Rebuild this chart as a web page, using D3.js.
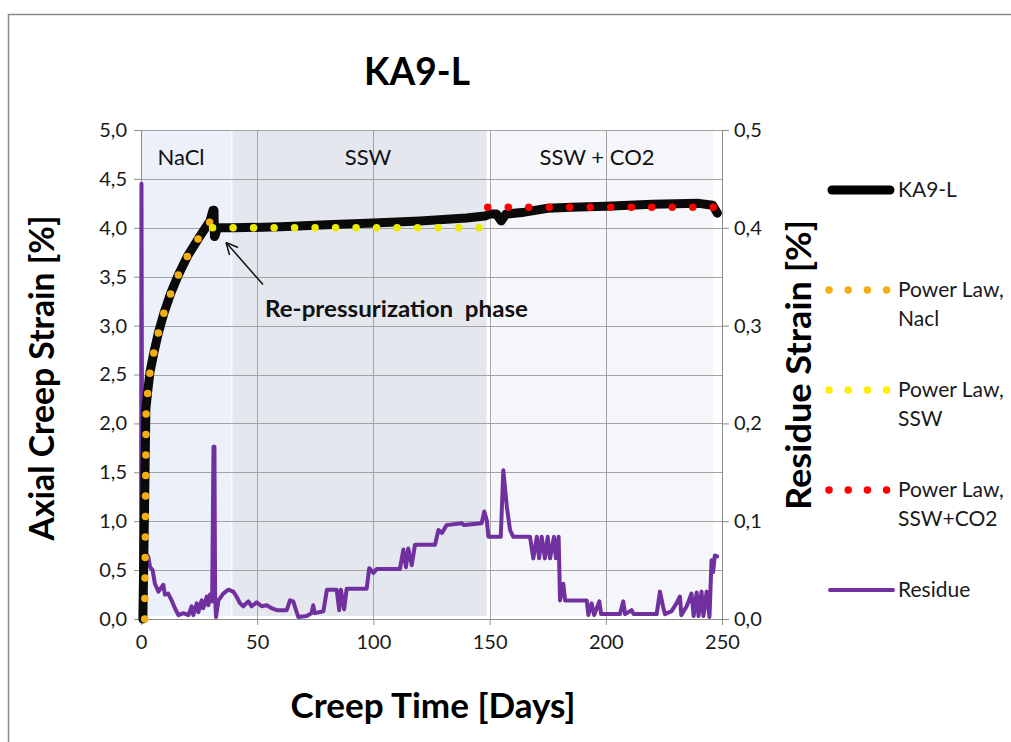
<!DOCTYPE html>
<html>
<head>
<meta charset="utf-8">
<script src="https://cdn.jsdelivr.net/npm/d3@7"></script>
<style>
  html, body { margin: 0; padding: 0; background: #fff; }
  svg { display: block; }
  text { font-family: Lato, "Open Sans", sans-serif; }
</style>
</head>
<body>
<svg id="chart" width="1011" height="742"></svg>
<script>
// ---------- DATA ----------
const xTicks = [0, 50, 100, 150, 200, 250];
const yTicks = [0, 0.5, 1, 1.5, 2, 2.5, 3, 3.5, 4, 4.5, 5];
const yRTicks = [0, 0.1, 0.2, 0.3, 0.4, 0.5];

const bandNames = ["NaCl", "SSW", "SSW + CO2"];
const bandStart = [0, 39.3, 151];
const bandEnd = [38.9, 148.7, 246.2];
const bandColors = ["#ebf0fa", "#e4e7ed", "#f5f6f9"];

// KA9-L measured axial creep strain [%]
const strainT = [0.8, 1.5, 2.1, 2.9, 3.9, 5.6, 7.5, 9.9, 12.8, 16.1, 20.0, 24.7, 29.7, 31.0, 31.4, 31.6, 31.9, 32.6, 34, 40, 60, 80, 100, 120, 140, 148, 150, 153, 155, 157, 165, 175, 185, 200, 220, 240, 246, 248];
const strainV = [0.0, 1.1, 2.15, 2.33, 2.53, 2.73, 2.93, 3.13, 3.33, 3.52, 3.71, 3.89, 4.07, 4.18, 4.18, 3.91, 3.92, 3.98, 4.0, 4.0, 4.01, 4.03, 4.05, 4.07, 4.1, 4.12, 4.14, 4.14, 4.07, 4.14, 4.16, 4.2, 4.21, 4.22, 4.24, 4.25, 4.23, 4.15];

// Power law fits
const nacl_T = [1.6, 1.9, 2.2, 2.9, 3.9, 5.6, 7.5, 9.9, 12.8, 16.1, 20.0, 24.7, 29.9];
const nacl_V = [0.0, 1.0, 2.1, 2.32, 2.53, 2.73, 2.93, 3.13, 3.33, 3.52, 3.71, 3.89, 4.07];
const ssw_T = [30.8, 146.0];
const ssw_V = [4.0, 4.0];
const co2_T = [149.2, 246.3];
const co2_V = [4.21, 4.21];

// Residue strain [%] (right axis)
const residT = [0, 0.2, 0.6, 1.0, 1.7, 3.1, 3.9, 5.0, 6.0, 7.5, 9.6, 10.3, 11.7, 13.2, 14.6, 16.1, 18.2, 20.4, 21.8, 22.5, 24.0, 24.7, 26.1, 26.8, 28.3, 29.0, 29.7, 30.6, 31.2, 31.6, 31.9, 32.3, 33.3, 35.4, 37.6, 39.7, 41.1, 42.6, 44.0, 46.2, 47.6, 49.8, 51.9, 54.1, 56.2, 58.4, 62.7, 64.1, 65.5, 66.7, 67.7, 71.3, 73.4, 74.1, 74.8, 78.5, 80.0, 84.2, 85.3, 86.0, 87.4, 88.5, 97.1, 98.2, 100.0, 101.4, 111.4, 112.9, 114.0, 115.0, 116.5, 117.9, 126.5, 128.0, 129.5, 131.5, 138.0, 139.0, 146.6, 147.7, 148.8, 149.5, 154.8, 155.9, 157.4, 158.8, 160.2, 167.4, 168.8, 170.3, 171.3, 172.4, 173.8, 175.0, 176.0, 177.7, 178.5, 179.7, 180.3, 181.7, 182.5, 191.8, 192.5, 193.9, 195.0, 197.2, 198.0, 206.1, 207.5, 208.3, 211.1, 212.0, 221.9, 223.3, 224.7, 225.5, 228.3, 230.4, 231.9, 232.5, 234.8, 236.9, 237.8, 239.1, 239.9, 241.2, 242.0, 243.4, 244.6, 245.5, 246.2, 246.9, 247.9];
const residV = [0, 0.445, 0.0, 0.066, 0.067, 0.064, 0.053, 0.050, 0.036, 0.028, 0.035, 0.025, 0.026, 0.019, 0.011, 0.004, 0.006, 0.004, 0.013, 0.004, 0.016, 0.007, 0.019, 0.011, 0.023, 0.014, 0.025, 0.018, 0.176, 0.176, 0.02, 0.002, 0.019, 0.026, 0.030, 0.028, 0.023, 0.016, 0.013, 0.018, 0.013, 0.017, 0.013, 0.014, 0.011, 0.009, 0.009, 0.019, 0.018, 0.009, 0.002, 0.003, 0.006, 0.014, 0.006, 0.008, 0.030, 0.030, 0.009, 0.030, 0.010, 0.031, 0.031, 0.052, 0.047, 0.051, 0.051, 0.071, 0.053, 0.072, 0.055, 0.076, 0.076, 0.091, 0.088, 0.096, 0.098, 0.096, 0.098, 0.110, 0.101, 0.084, 0.084, 0.152, 0.115, 0.091, 0.084, 0.084, 0.062, 0.084, 0.062, 0.084, 0.062, 0.084, 0.062, 0.084, 0.062, 0.084, 0.019, 0.036, 0.019, 0.019, 0.004, 0.016, 0.004, 0.018, 0.005, 0.005, 0.018, 0.005, 0.009, 0.005, 0.005, 0.028, 0.012, 0.005, 0.008, 0.016, 0.023, 0.004, 0.013, 0.026, 0.003, 0.027, 0.003, 0.028, 0.003, 0.028, 0.002, 0.060, 0.048, 0.065, 0.064];

const legendLabels = [["KA9-L"], ["Power Law,", "Nacl"], ["Power Law,", "SSW"], ["Power Law,", "SSW+CO2"], ["Residue"]];

// ---------- CHART ----------
const svg = d3.select("#chart");

svg.append("rect").attr("x", 8.5).attr("y", 14.5).attr("width", 1010).attr("height", 740)
  .attr("fill", "#fff").attr("stroke", "#8a8a8a").attr("stroke-width", 1.5);

const x = d3.scaleLinear().domain([0, 250]).range([141, 722]);
const y = d3.scaleLinear().domain([0, 5]).range([619, 130]);
const yR = d3.scaleLinear().domain([0, 0.5]).range([619, 130]);

// bands
bandNames.forEach((name, i) => {
  svg.append("rect")
    .attr("x", x(bandStart[i])).attr("y", 130)
    .attr("width", x(bandEnd[i]) - x(bandStart[i])).attr("height", 486)
    .attr("fill", bandColors[i]);
});

// gridlines
const grid = svg.append("g").attr("stroke", "#a3a3a3").attr("stroke-width", 1);
yTicks.forEach(v => grid.append("line").attr("x1", 141).attr("x2", 722)
  .attr("y1", Math.round(y(v)) + 0.5).attr("y2", Math.round(y(v)) + 0.5));
xTicks.forEach(v => grid.append("line").attr("y1", 130).attr("y2", 619)
  .attr("x1", Math.round(x(v)) + 0.5).attr("x2", Math.round(x(v)) + 0.5));

// band labels
bandNames.forEach((name, i) => {
  const cx = [181, 368, 597][i];
  svg.append("text").attr("x", cx).attr("y", 165).attr("text-anchor", "middle")
    .attr("font-size", 22).attr("fill", "#111").text(name);
});

// axes
const fmt = d => d3.format(".1f")(d).replace(".", ",");
const axL = svg.append("g").attr("transform", "translate(141,0)")
  .call(d3.axisLeft(y).tickValues(yTicks).tickFormat(fmt).tickSizeOuter(0).tickSize(7).tickPadding(7));
const axR = svg.append("g").attr("transform", "translate(722,0)")
  .call(d3.axisRight(yR).tickValues(yRTicks).tickFormat(fmt).tickSizeOuter(0).tickSize(7).tickPadding(5));
const axB = svg.append("g").attr("transform", "translate(0,619)")
  .call(d3.axisBottom(x).tickValues(xTicks).tickFormat(d3.format("d")).tickSizeOuter(0).tickSize(6).tickPadding(10));
[axL, axR, axB].forEach(a => {
  a.selectAll("path, line").attr("stroke", "#8c8c8c");
  a.selectAll("text").attr("font-size", 20).attr("fill", "#1a1a1a").attr("font-family", "Lato, sans-serif");
});

// lines
const mk = (T, V, sc) => T.map((t, i) => [x(t), sc(V[i])]);
const line = d3.line();

// residue
svg.append("path").attr("d", line(mk(residT, residV, yR)))
  .attr("fill", "none").attr("stroke", "#7030a0").attr("stroke-width", 4)
  .attr("stroke-linejoin", "round").attr("stroke-linecap", "round");

// strain
svg.append("path").attr("d", line(mk(strainT, strainV, y)))
  .attr("fill", "none").attr("stroke", "#0a0a0a").attr("stroke-width", 9)
  .attr("stroke-linejoin", "round").attr("stroke-linecap", "round");

// power laws (dotted)
const dotted = (T, V, color) => svg.append("path").attr("d", line(mk(T, V, y)))
  .attr("fill", "none").attr("stroke", color).attr("stroke-width", 7.5)
  .attr("stroke-linecap", "round").attr("stroke-dasharray", "0 20.5");
dotted(nacl_T, nacl_V, "#f2ae12");
dotted(ssw_T, ssw_V, "#eaea00");
dotted(co2_T, co2_V, "#ff0000");

// annotation
const tip = [x(36.6), y(3.85)], tail = [x(52.5), y(3.42)];
svg.append("line").attr("x1", tail[0]).attr("y1", tail[1]).attr("x2", tip[0]).attr("y2", tip[1])
  .attr("stroke", "#111").attr("stroke-width", 1.5);
const ang = Math.atan2(tail[1] - tip[1], tail[0] - tip[0]);
[0.45, -0.45].forEach(da => {
  svg.append("line").attr("x1", tip[0]).attr("y1", tip[1])
    .attr("x2", tip[0] + 13 * Math.cos(ang + da)).attr("y2", tip[1] + 13 * Math.sin(ang + da))
    .attr("stroke", "#111").attr("stroke-width", 1.5);
});
svg.append("text").attr("x", 265).attr("y", 317).attr("font-size", 22).attr("font-weight", "bold")
  .attr("fill", "#111").attr("textLength", 263).attr("lengthAdjust", "spacingAndGlyphs")
  .style("white-space", "pre").text("Re-pressurization  phase");

// titles
svg.append("text").attr("x", 417).attr("y", 85).attr("text-anchor", "middle")
  .attr("font-size", 38).attr("font-weight", "bold").attr("fill", "#000")
  .attr("textLength", 106).attr("lengthAdjust", "spacingAndGlyphs").text("KA9-L");
svg.append("text").attr("transform", "translate(54,378) rotate(-90)").attr("text-anchor", "middle")
  .attr("font-size", 34).attr("font-weight", "bold").attr("fill", "#000")
  .attr("textLength", 325).attr("lengthAdjust", "spacingAndGlyphs").text("Axial Creep Strain [%]");
svg.append("text").attr("transform", "translate(811,365) rotate(-90)").attr("text-anchor", "middle")
  .attr("font-size", 34).attr("font-weight", "bold").attr("fill", "#000")
  .attr("textLength", 290).attr("lengthAdjust", "spacingAndGlyphs").text("Residue Strain [%]");
svg.append("text").attr("x", 433).attr("y", 718).attr("text-anchor", "middle")
  .attr("font-size", 35).attr("font-weight", "bold").attr("fill", "#000")
  .attr("textLength", 285).attr("lengthAdjust", "spacingAndGlyphs").text("Creep Time [Days]");

// legend
const legY = [190, 290, 390, 490, 590];
const lg = svg.append("g");
legendLabels.forEach((lab, i) => {
  const yy = legY[i];
  if (i === 0) {
    lg.append("line").attr("x1", 832).attr("x2", 890).attr("y1", yy).attr("y2", yy)
      .attr("stroke", "#000").attr("stroke-width", 9).attr("stroke-linecap", "round");
  } else if (i === 4) {
    lg.append("line").attr("x1", 830).attr("x2", 893).attr("y1", yy).attr("y2", yy)
      .attr("stroke", "#7030a0").attr("stroke-width", 4).attr("stroke-linecap", "round");
  } else {
    const col = ["#f2ae12", "#ffee00", "#ff0000"][i - 1];
    lg.append("line").attr("x1", 829).attr("x2", 887).attr("y1", yy).attr("y2", yy)
      .attr("stroke", col).attr("stroke-width", 7.5).attr("stroke-linecap", "round")
      .attr("stroke-dasharray", "0 19.2");
  }
  lab.forEach((t, j) => {
    lg.append("text").attr("x", 898).attr("y", yy + 7 + j * 29).attr("font-size", 21)
      .attr("fill", "#1a1a1a").text(t);
  });
});
</script>
</body>
</html>
